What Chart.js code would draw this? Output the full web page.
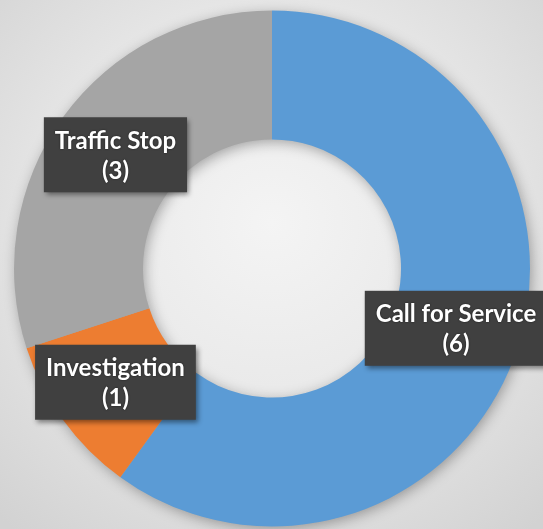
<!DOCTYPE html>
<html>
<head>
<meta charset="utf-8">
<script src="https://cdn.jsdelivr.net/npm/chart.js@4.4.1/dist/chart.umd.min.js"></script>
<style>
  html, body { margin: 0; padding: 0; }
  body {
    width: 543px; height: 529px; overflow: hidden;
    background: radial-gradient(ellipse 75% 75% at 50% 42%, #f4f4f4 0%, #e8e8e8 50%, #d2d2d2 100%);
  }
  #wrap { position: relative; width: 543px; height: 529px; }
</style>
</head>
<body>
<div id="wrap"><canvas id="chart"></canvas></div>
<script>
// Stops by type
const categories = ['Call for Service', 'Investigation', 'Traffic Stop'];
const counts = [6, 1, 3];
const colors = ['#5b9bd5', '#ed7d31', '#a5a5a5'];

// soft shadow under the ring, sized from the arc element
const ringShadow = {
  id: 'ringShadow',
  beforeDatasetsDraw(chart) {
    const arc = chart.getDatasetMeta(0).data[0];
    if (!arc) return;
    const { x, y, outerRadius, innerRadius } = arc.getProps(['x', 'y', 'outerRadius', 'innerRadius'], true);
    const ctx = chart.ctx;
    ctx.save();
    ctx.shadowColor = 'rgba(0,0,0,0.35)';
    ctx.shadowBlur = 14;
    ctx.shadowOffsetX = 2;
    ctx.shadowOffsetY = 3;
    ctx.fillStyle = '#a5a5a5';
    ctx.beginPath();
    ctx.arc(x, y, outerRadius - 1, 0, Math.PI * 2);
    ctx.arc(x, y, innerRadius + 1, Math.PI * 2, 0, true);
    ctx.closePath();
    ctx.fill('evenodd');
    ctx.restore();
  }
};

// dark callout boxes with "Name (n)" at the middle of each segment
const calloutLabels = {
  id: 'calloutLabels',
  afterDatasetsDraw(chart) {
    const ctx = chart.ctx;
    const meta = chart.getDatasetMeta(0);
    ctx.save();
    ctx.font = 'bold 24px Lato, "Open Sans", sans-serif';
    ctx.textAlign = 'center';
    ctx.textBaseline = 'alphabetic';
    meta.data.forEach((arc, i) => {
      const p = arc.tooltipPosition(true);
      const l1 = categories[i];
      const l2 = '(' + counts[i] + ')';
      const w = Math.max(ctx.measureText(l1).width, ctx.measureText(l2).width) + 22;
      const h = 75;
      const bx = p.x - w / 2, by = p.y - h / 2;
      ctx.save();
      ctx.shadowColor = 'rgba(0,0,0,0.45)';
      ctx.shadowBlur = 5;
      ctx.shadowOffsetX = 2;
      ctx.shadowOffsetY = 3;
      ctx.fillStyle = '#404040';
      ctx.fillRect(bx, by, w, h);
      ctx.restore();
      ctx.save();
      ctx.shadowColor = 'rgba(0,0,0,0.6)';
      ctx.shadowBlur = 2;
      ctx.fillStyle = '#ffffff';
      ctx.fillText(l1, p.x, p.y - 6);
      ctx.fillText(l2, p.x, p.y + 24);
      ctx.restore();
    });
    ctx.restore();
  }
};

new Chart(document.getElementById('chart'), {
  type: 'doughnut',
  data: {
    labels: categories,
    datasets: [{
      data: counts,
      backgroundColor: colors,
      borderWidth: 0,
      hoverOffset: 0
    }]
  },
  options: {
    responsive: true,
    maintainAspectRatio: false,
    animation: false,
    cutout: '50%',
    layout: { padding: { left: 14, right: 13, top: 10, bottom: 2 } },
    plugins: {
      legend: { display: false },
      tooltip: { enabled: false }
    }
  },
  plugins: [ringShadow, calloutLabels]
});
</script>
</body>
</html>
